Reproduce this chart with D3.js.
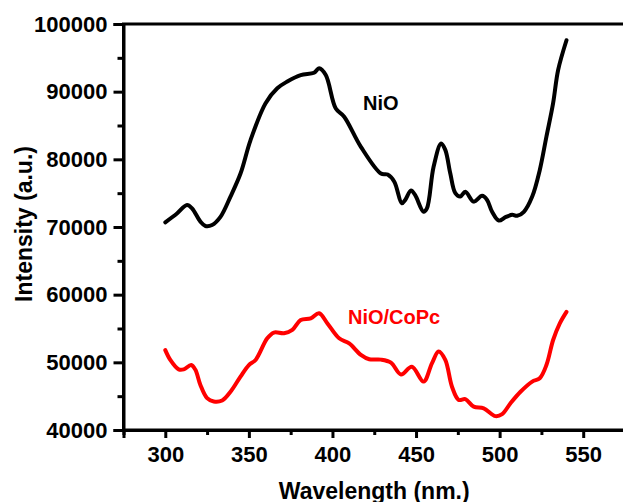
<!DOCTYPE html>
<html><head><meta charset="utf-8">
<script src="https://cdn.jsdelivr.net/npm/d3@7"></script>
<style>body{margin:0;background:#fff;} svg{display:block;font-family:"Liberation Sans",Arial,sans-serif;font-weight:bold;}</style>
</head><body><svg id="c" width="623" height="502"></svg>
<script>
const nioWl = [300,307,313,316,321,324,328,333,339,345,351,360,367,373,381,389,392,396,402,407,417,429,433,437,441.5,443.5,447,449.5,454.5,456.5,460.5,465,467.5,470.5,473.5,476.5,479.5,484.5,489.5,492.5,495.5,499.5,503.5,507.5,510.5,514.5,519.5,524,528,532,535,540];
const nioVal = [70700,72000,73250,72750,70800,70150,70300,71500,74500,77900,82850,88300,90500,91500,92450,92800,93450,92450,87500,86300,81850,77900,77750,76700,73500,74000,75400,74700,72250,72750,78900,82350,81400,77900,75000,74500,75200,73750,74600,74000,72250,70950,71450,71800,71650,72250,74500,78400,83350,88300,93200,97600];
const copcWl = [300,303,308,311,315.5,318,321,325,329,334,339,345,350,354,361,365,371,376,381,387,392,397,404,410,417,422,429,435,441,447.5,454.5,459.5,463.5,467.5,471.5,475.5,479.5,484.5,490.5,497.5,501.5,506.5,512.5,519.5,524,528,532,536,540];
const copcVal = [51800,50350,48950,48950,49600,48900,46650,44700,44200,44350,45650,47900,49600,50350,53550,54400,54300,54800,56250,56500,57250,55750,53550,52800,51100,50450,50400,49950,48200,49350,47150,49850,51600,50350,46400,44450,44550,43450,43200,42050,42350,43950,45650,47150,47650,49600,53300,55750,57450];
const xTicks = [300,350,400,450,500,550];
const yTicks = [40000,50000,60000,70000,80000,90000,100000];
const xMinor = [275,325,375,425,475,525,575];
const yMinor = [45000,55000,65000,75000,85000,95000];
const seriesNames = ["NiO","NiO/CoPc"];
const seriesColors = ["#000000","#ff0000"];
const xTitle = "Wavelength (nm.)";
const yTitle = "Intensity (a.u.)";

const svg = d3.select("#c");
const L=123.5, R=625, T=24, B=430;
const x = d3.scaleLinear().domain([275,575]).range([L,R]);
const y = d3.scaleLinear().domain([40000,100000]).range([B,T]);

// frame
svg.append("rect").attr("x",L).attr("y",T).attr("width",R-L).attr("height",B-T)
  .attr("fill","none").attr("stroke","#000").attr("stroke-width",3);

// y axis
const ya = svg.append("g").attr("transform",`translate(${L},0)`)
  .call(d3.axisLeft(y).tickValues(yTicks).tickSize(10).tickPadding(6).tickFormat(d3.format("d")));
ya.select(".domain").attr("stroke-width",3);
ya.selectAll(".tick line").attr("stroke-width",3);
ya.selectAll("text").attr("font-size",22).attr("font-weight","bold").attr("font-family","Liberation Sans, Arial, sans-serif").attr("fill","#000");
const yam = svg.append("g").attr("transform",`translate(${L},0)`)
  .call(d3.axisLeft(y).tickValues(yMinor).tickSize(6).tickFormat(""));
yam.select(".domain").remove();
yam.selectAll(".tick line").attr("stroke-width",3);

// x axis
const xa = svg.append("g").attr("transform",`translate(0,${B})`)
  .call(d3.axisBottom(x).tickValues(xTicks).tickSize(8).tickPadding(8).tickFormat(d3.format("d")));
xa.select(".domain").attr("stroke-width",3);
xa.selectAll(".tick line").attr("stroke-width",3);
xa.selectAll("text").attr("font-size",22).attr("font-weight","bold").attr("font-family","Liberation Sans, Arial, sans-serif").attr("fill","#000");
const xam = svg.append("g").attr("transform",`translate(0,${B})`)
  .call(d3.axisBottom(x).tickValues(xMinor).tickSize(5).tickFormat(""));
xam.select(".domain").remove();
xam.selectAll(".tick line").attr("stroke-width",3);

// lines
const line = d3.line().x(d=>x(d[0])).y(d=>y(d[1])).curve(d3.curveCatmullRom.alpha(0.5));
const series = [d3.zip(nioWl,nioVal), d3.zip(copcWl,copcVal)];
series.forEach((s,i)=>{
  svg.append("path").datum(s).attr("d",line).attr("fill","none")
    .attr("stroke",seriesColors[i]).attr("stroke-width",4).attr("stroke-linejoin","round").attr("stroke-linecap","round");
});

// labels
svg.append("text").attr("x",363).attr("y",110).attr("font-size",20).attr("fill",seriesColors[0]).text(seriesNames[0]);
svg.append("text").attr("x",348).attr("y",324).attr("font-size",20).attr("fill",seriesColors[1]).text(seriesNames[1]);

// titles
svg.append("text").attr("x",(L+R)/2).attr("y",499).attr("text-anchor","middle").attr("font-size",23).attr("fill","#000").text(xTitle);
svg.append("text").attr("transform","translate(31.5,224) rotate(-90)").attr("text-anchor","middle").attr("font-size",23).attr("fill","#000").text(yTitle);
</script></body></html>
